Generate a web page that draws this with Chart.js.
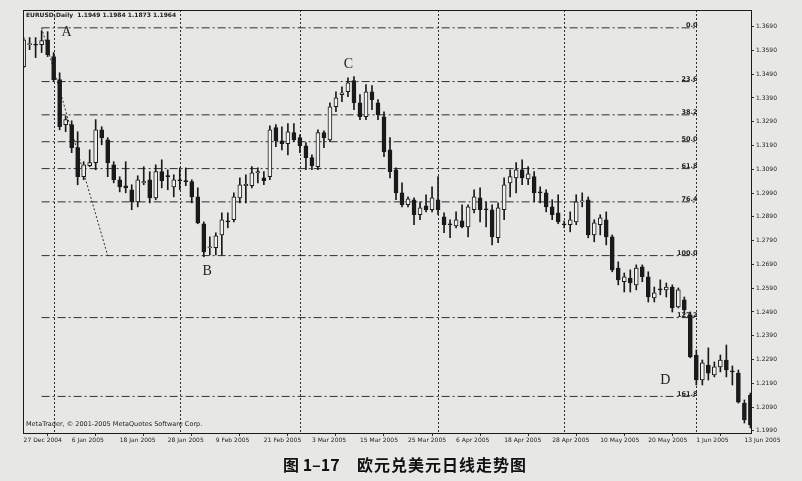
<!DOCTYPE html>
<html>
<head>
<meta charset="utf-8">
<script src="https://cdn.jsdelivr.net/npm/chart.js@4/dist/chart.umd.min.js"></script>
<style>
  html, body { margin: 0; padding: 0; background: #e7e7e5; }
  canvas { display: block; }
</style>
</head>
<body>
<canvas id="eurusd" width="802" height="481"></canvas>
<script>
// EURUSD daily, 27 Dec 2004 .. 14 Jun 2005 (one entry per trading day)
const open = [1.3522,1.3614,1.3614,1.3614,1.3635,1.3564,1.3467,1.3278,1.3278,1.3181,
  1.3059,1.3105,1.3118,1.3256,1.3214,1.3109,1.3046,1.3021,1.3004,1.2953,
  1.3033,1.3046,1.2970,1.3080,1.3063,1.3016,1.3046,1.3042,1.3038,1.2974,
  1.2861,1.2760,1.2760,1.2814,1.2873,1.2878,1.2970,1.3021,1.3021,1.3075,
  1.3054,1.3059,1.3265,1.3210,1.3198,1.3244,1.3223,1.3189,1.3139,1.3101,
  1.3244,1.3214,1.3353,1.3404,1.3416,1.3463,1.3370,1.3311,1.3416,1.3370,
  1.3311,1.3172,1.3088,1.2991,1.2941,1.2962,1.2899,1.2936,1.2920,1.2962,
  1.2890,1.2861,1.2852,1.2873,1.2848,1.2920,1.2970,1.2924,1.2920,1.2802,
  1.2920,1.3033,1.3054,1.3088,1.3050,1.3059,1.2995,1.2991,1.2932,1.2907,
  1.2861,1.2857,1.2869,1.2953,1.2962,1.2814,1.2857,1.2878,1.2806,1.2675,
  1.2617,1.2633,1.2604,1.2680,1.2638,1.2549,1.2587,1.2583,1.2595,1.2511,
  1.2541,1.2478,1.2309,1.2204,1.2267,1.2225,1.2259,1.2288,1.2242,1.2233,
  1.2107,1.2141];
const high = [1.3644,1.3644,1.3644,1.3673,1.3669,1.3581,1.3496,1.3315,1.3294,1.3248,
  1.3122,1.3172,1.3299,1.3269,1.3223,1.3122,1.3059,1.3122,1.3025,1.3063,
  1.3101,1.3080,1.3109,1.3130,1.3088,1.3067,1.3096,1.3096,1.3046,1.3012,
  1.2869,1.2806,1.2823,1.2907,1.2907,1.2991,1.3054,1.3067,1.3101,1.3096,
  1.3080,1.3273,1.3278,1.3269,1.3282,1.3282,1.3235,1.3202,1.3151,1.3256,
  1.3252,1.3370,1.3416,1.3437,1.3475,1.3480,1.3404,1.3446,1.3442,1.3383,
  1.3332,1.3223,1.3096,1.3033,1.2974,1.2970,1.2953,1.2983,1.3016,1.3059,
  1.2907,1.2878,1.2911,1.2941,1.2941,1.3004,1.3012,1.2953,1.2941,1.2949,
  1.3054,1.3088,1.3118,1.3130,1.3101,1.3080,1.3016,1.3004,1.2962,1.2983,
  1.2873,1.2911,1.2983,1.2991,1.2974,1.2878,1.2899,1.2911,1.2814,1.2701,
  1.2654,1.2667,1.2688,1.2688,1.2659,1.2595,1.2625,1.2612,1.2604,1.2591,
  1.2553,1.2490,1.2330,1.2288,1.2339,1.2280,1.2309,1.2351,1.2263,1.2246,
  1.2120,1.2149];
const low = [1.3517,1.3593,1.3560,1.3581,1.3564,1.3459,1.3256,1.3248,1.3160,1.3025,
  1.3046,1.3101,1.3088,1.3193,1.3059,1.3033,1.2995,1.2991,1.2920,1.2932,
  1.3025,1.2949,1.2962,1.3012,1.3004,1.2974,1.3004,1.3021,1.2949,1.2861,
  1.2722,1.2730,1.2730,1.2730,1.2844,1.2869,1.2949,1.2949,1.3012,1.3033,
  1.3025,1.3046,1.3185,1.3172,1.3151,1.3206,1.3160,1.3088,1.3088,1.3088,
  1.3181,1.3206,1.3332,1.3374,1.3395,1.3341,1.3299,1.3299,1.3341,1.3299,
  1.3143,1.3054,1.2962,1.2932,1.2932,1.2857,1.2878,1.2911,1.2911,1.2899,
  1.2823,1.2802,1.2844,1.2844,1.2806,1.2907,1.2869,1.2848,1.2772,1.2781,
  1.2878,1.2974,1.2991,1.3025,1.3025,1.2953,1.2949,1.2911,1.2878,1.2861,
  1.2844,1.2827,1.2857,1.2932,1.2802,1.2785,1.2814,1.2772,1.2659,1.2604,
  1.2574,1.2574,1.2583,1.2617,1.2532,1.2532,1.2562,1.2553,1.2490,1.2507,
  1.2478,1.2297,1.2183,1.2183,1.2204,1.2217,1.2238,1.2217,1.2183,1.2107,
  1.2023,1.2002];
const close = [1.3635,1.3619,1.3612,1.3631,1.3572,1.3467,1.3269,1.3299,1.3181,1.3059,
  1.3109,1.3118,1.3256,1.3223,1.3118,1.3046,1.3016,1.3012,1.2953,1.3046,
  1.3038,1.2970,1.3080,1.3042,1.3059,1.3046,1.3042,1.3038,1.2974,1.2865,
  1.2743,1.2764,1.2810,1.2878,1.2869,1.2974,1.3025,1.3027,1.3075,1.3080,
  1.3042,1.3256,1.3210,1.3198,1.3248,1.3214,1.3189,1.3139,1.3105,1.3244,
  1.3223,1.3353,1.3391,1.3412,1.3454,1.3370,1.3311,1.3416,1.3383,1.3320,
  1.3164,1.3080,1.2991,1.2941,1.2966,1.2899,1.2928,1.2920,1.2970,1.2920,
  1.2857,1.2857,1.2878,1.2848,1.2932,1.2974,1.2920,1.2920,1.2806,1.2928,
  1.3025,1.3059,1.3088,1.3054,1.3071,1.2991,1.2991,1.2932,1.2899,1.2869,
  1.2857,1.2878,1.2953,1.2957,1.2814,1.2865,1.2886,1.2806,1.2667,1.2625,
  1.2638,1.2612,1.2675,1.2638,1.2553,1.2570,1.2583,1.2595,1.2507,1.2583,
  1.2499,1.2301,1.2204,1.2276,1.2233,1.2259,1.2288,1.2246,1.2238,1.2111,
  1.2036,1.2015];

// one date label every 8 bars
const dateLabels = ['27 Dec 2004','6 Jan 2005','18 Jan 2005','28 Jan 2005','9 Feb 2005',
  '21 Feb 2005','3 Mar 2005','15 Mar 2005','25 Mar 2005','6 Apr 2005','18 Apr 2005',
  '28 Apr 2005','10 May 2005','20 May 2005','1 Jun 2005','13 Jun 2005'];
const labelEvery = 8;
const yTicks = [1.3690,1.3590,1.3490,1.3390,1.3290,1.3190,1.3090,1.2990,1.2890,
  1.2790,1.2690,1.2590,1.2490,1.2390,1.2290,1.2190,1.2090,1.1990];

// first bar of each month (period separators)
const monthStarts = [5, 26, 46, 69, 90, 112];

// Fibonacci retracement A -> B
const fibHigh = 1.3685, fibLow = 1.2727;
const fibFrom = 3, fibTo = 14, fibEnd = 111.8;
const fibLevels = [0, 23.6, 38.2, 50.0, 61.8, 76.4, 100.0, 127.2, 161.8];

const pointLabels = [
  { text: 'A', x: 6.3, y: 1.3664 },
  { text: 'B', x: 29.8, y: 1.2659 },
  { text: 'C', x: 53.3, y: 1.3530 },
  { text: 'D', x: 106, y: 1.2204 }
];

const INK = '#1a1a1a';
const PAPER = '#e7e7e5';
const SMALL = 'DejaVu Sans';

const fibPrice = lv => fibHigh - (fibHigh - fibLow) * lv / 100;

const wickData = low.map((l, i) => ({ x: i, y: [l, high[i]] }));
const bodyData = open.map((o, i) => ({ x: i, y: [o, close[i]] }));
const bodyFill = open.map((o, i) => close[i] >= o ? '#f0f0ee' : INK);

const fibSets = fibLevels.map(lv => ({
    type: 'line',
    data: [{ x: fibFrom, y: fibPrice(lv) }, { x: fibEnd, y: fibPrice(lv) }],
    borderColor: '#2e2e2e',
    borderWidth: 1,
    borderDash: [8, 3, 2, 3],
    pointRadius: 0,
    order: 5
}));

const chartDecor = {
    id: 'chartDecor',
    beforeDraw(chart) {
        const ctx = chart.ctx;
        ctx.save();
        ctx.fillStyle = PAPER;
        ctx.fillRect(0, 0, chart.width, chart.height);
        ctx.restore();
    },
    beforeDatasetsDraw(chart) {
        const { ctx, chartArea: a, scales: { x } } = chart;
        ctx.save();
        ctx.strokeStyle = '#2e2e2e';
        ctx.lineWidth = 1;
        ctx.setLineDash([2, 2]);
        monthStarts.forEach(i => {
            const px = Math.round(x.getPixelForValue(i)) + 0.5;
            ctx.beginPath();
            ctx.moveTo(px, a.top);
            ctx.lineTo(px, a.bottom);
            ctx.stroke();
        });
        ctx.restore();
    },
    afterDatasetsDraw(chart) {
        const { ctx, chartArea: a, scales: { x, y } } = chart;
        ctx.save();
        // fib level captions
        ctx.fillStyle = '#222';
        ctx.font = 'bold 6.5px "' + SMALL + '"';
        ctx.textAlign = 'right';
        ctx.textBaseline = 'bottom';
        fibLevels.forEach(lv => {
            ctx.fillText(lv.toFixed(1), x.getPixelForValue(fibEnd + 0.4), y.getPixelForValue(fibPrice(lv)) + 1);
        });
        // swing point letters
        ctx.font = '14px "Liberation Serif"';
        ctx.textAlign = 'left';
        ctx.textBaseline = 'middle';
        ctx.fillStyle = '#222';
        pointLabels.forEach(p => ctx.fillText(p.text, x.getPixelForValue(p.x), y.getPixelForValue(p.y)));
        // header and copyright
        ctx.font = 'bold 6px "' + SMALL + '"';
        ctx.fillText('EURUSD,Daily  1.1949 1.1984 1.1873 1.1964', a.left + 3, a.top + 5);
        ctx.font = '6.5px "' + SMALL + '"';
        ctx.fillText('MetaTrader, \u00a9 2001-2005 MetaQuotes Software Corp.', a.left + 3, a.bottom - 9);
        // frame
        ctx.strokeStyle = INK;
        ctx.lineWidth = 1;
        ctx.strokeRect(Math.round(a.left) + 0.5, Math.round(a.top) + 0.5,
            Math.round(a.right - a.left), Math.round(a.bottom - a.top));
        ctx.restore();
    },
    afterDraw(chart) {
        const ctx = chart.ctx;
        ctx.save();
        ctx.fillStyle = '#111';
        ctx.textBaseline = 'middle';
        ctx.textAlign = 'left';
        ctx.font = 'bold 16px "Noto Sans CJK SC"';
        ctx.fillText('图 1–17', 283, 465);
        ctx.letterSpacing = '1px';
        ctx.fillText('欧元兑美元日线走势图', 357, 465);
        ctx.restore();
    }
};

new Chart(document.getElementById('eurusd'), {
    type: 'bar',
    data: {
        datasets: [
            {
                label: 'wick',
                data: wickData,
                backgroundColor: INK,
                barThickness: 1,
                grouped: false,
                order: 3
            },
            {
                label: 'body',
                data: bodyData,
                backgroundColor: bodyFill,
                borderColor: INK,
                borderWidth: 1,
                borderSkipped: false,
                barThickness: 4,
                minBarLength: 1,
                grouped: false,
                order: 1
            },
            ...fibSets,
            {
                type: 'line',
                data: [{ x: fibFrom, y: fibHigh }, { x: fibTo, y: fibLow }],
                borderColor: '#2e2e2e',
                borderWidth: 1,
                borderDash: [2, 2],
                pointRadius: 0,
                order: 4
            }
        ]
    },
    options: {
        responsive: false,
        animation: false,
        devicePixelRatio: 1,
        layout: { padding: { left: 23, top: 10, right: 0, bottom: 34 } },
        plugins: { legend: { display: false }, tooltip: { enabled: false } },
        scales: {
            x: {
                type: 'linear',
                min: -0.1,
                max: 121.1,
                offset: false,
                afterBuildTicks: s => { s.ticks = dateLabels.map((_, k) => ({ value: k * labelEvery })); },
                afterFit: s => { s.height = 14; },
                grid: { drawOnChartArea: false, drawTicks: true, tickLength: 3, color: '#333' },
                border: { color: INK },
                ticks: {
                    align: 'start',
                    autoSkip: false,
                    maxRotation: 0,
                    padding: 1,
                    color: '#222',
                    font: { family: SMALL, size: 6 },
                    callback: v => dateLabels[Math.round(v / labelEvery)]
                }
            },
            y: {
                position: 'right',
                min: 1.1981,
                max: 1.3760,
                afterBuildTicks: s => { s.ticks = yTicks.map(v => ({ value: v })); },
                afterFit: s => { s.width = 51; },
                grid: { drawOnChartArea: false, drawTicks: true, tickLength: 3, color: '#333' },
                border: { color: INK },
                ticks: {
                    padding: 2,
                    color: '#222',
                    font: { family: SMALL, size: 6 },
                    callback: v => v.toFixed(4)
                }
            }
        }
    },
    plugins: [chartDecor]
});
</script>
</body>
</html>
